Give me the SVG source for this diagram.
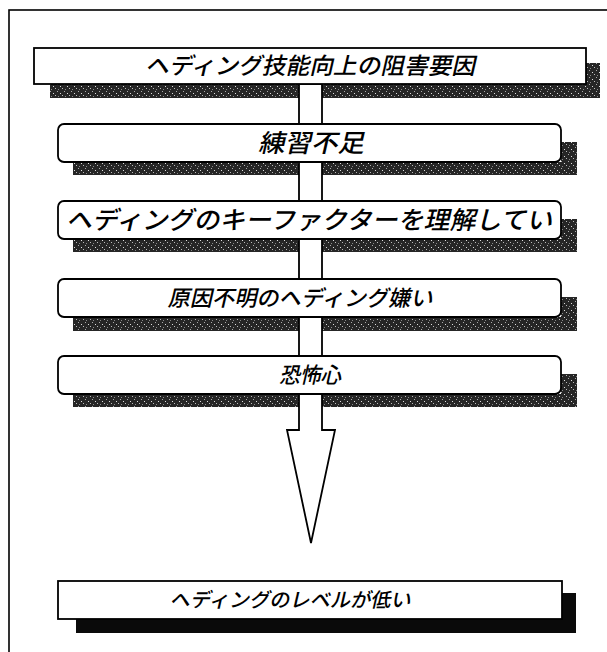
<svg xmlns="http://www.w3.org/2000/svg" width="607" height="652" viewBox="0 0 607 652">
<defs>
<pattern id="speck" width="7" height="7" patternUnits="userSpaceOnUse">
<rect width="7" height="7" fill="#262626"/>
<rect x="1" y="0" width="1" height="1" fill="#aaa"/>
<rect x="4" y="2" width="1" height="1" fill="#ddd"/>
<rect x="2" y="5" width="1" height="1" fill="#888"/>
<rect x="6" y="4" width="1" height="1" fill="#bbb"/>
</pattern>
<style>
.box{fill:#fff;stroke:#000;stroke-width:1.8}
.sh{fill:url(#speck)}
.shd{fill:#0a0a0a}
.t{font-family:"Noto Sans CJK JP","Noto Sans CJK SC",sans-serif;font-weight:500;fill:#000;text-anchor:middle}
</style>
</defs>
<rect width="607" height="652" fill="#fff"/>
<rect x="9" y="10" width="620" height="660" fill="none" stroke="#000" stroke-width="1.6"/>

<g id="shadows">
<polygon class="sh" points="50,84 586,84 586,63 600,63 600,98 50,98"/>
<polygon class="sh" points="73,162 561,162 561,142 577,142 577,175 73,175"/>
<polygon class="sh" points="73,239 561,239 561,219 577,219 577,252 73,252"/>
<polygon class="sh" points="73,317 561,317 561,297 577,297 577,331 73,331"/>
<polygon class="sh" points="73,394 561,394 561,374 577,374 577,407 73,407"/>
<polygon class="shd" points="76,619 562,619 562,593 576,593 576,633 76,633"/>
</g>

<g id="connectors">
<polygon points="299,84 322,84 322,430 335,430 311,543 287,430 299,430" fill="#fff" stroke="#000" stroke-width="1.8" stroke-linejoin="miter"/>
</g>

<g id="title">
<rect class="box" x="34" y="48" width="552" height="36"/>
<text class="t" transform="translate(310,74) skewX(-13)" font-size="23" textLength="330" lengthAdjust="spacingAndGlyphs">ヘディング技能向上の阻害要因</text>
</g>
<g id="n1">
<rect class="box" x="58" y="124" width="503" height="38" rx="6"/>
<text class="t" transform="translate(311,152) skewX(-13)" font-size="25" textLength="106" lengthAdjust="spacingAndGlyphs">練習不足</text>
</g>
<g id="n2">
<rect class="box" x="58" y="201" width="503" height="38" rx="6"/>
<text class="t" transform="translate(309,229) skewX(-13)" font-size="25" textLength="486" lengthAdjust="spacingAndGlyphs">ヘディングのキーファクターを理解してい</text>
</g>
<g id="n3">
<rect class="box" x="58" y="279" width="503" height="38" rx="6"/>
<text class="t" transform="translate(300,306) skewX(-13)" font-size="22" textLength="265" lengthAdjust="spacingAndGlyphs">原因不明のヘディング嫌い</text>
</g>
<g id="n4">
<rect class="box" x="58" y="356" width="503" height="38" rx="6"/>
<text class="t" transform="translate(310,383) skewX(-13)" font-size="22" textLength="62" lengthAdjust="spacingAndGlyphs">恐怖心</text>
</g>
<g id="result">
<rect class="box" x="58" y="581" width="504" height="38"/>
<text class="t" transform="translate(290,607) skewX(-13)" font-size="20" textLength="241" lengthAdjust="spacingAndGlyphs">ヘディングのレベルが低い</text>
</g>
</svg>
